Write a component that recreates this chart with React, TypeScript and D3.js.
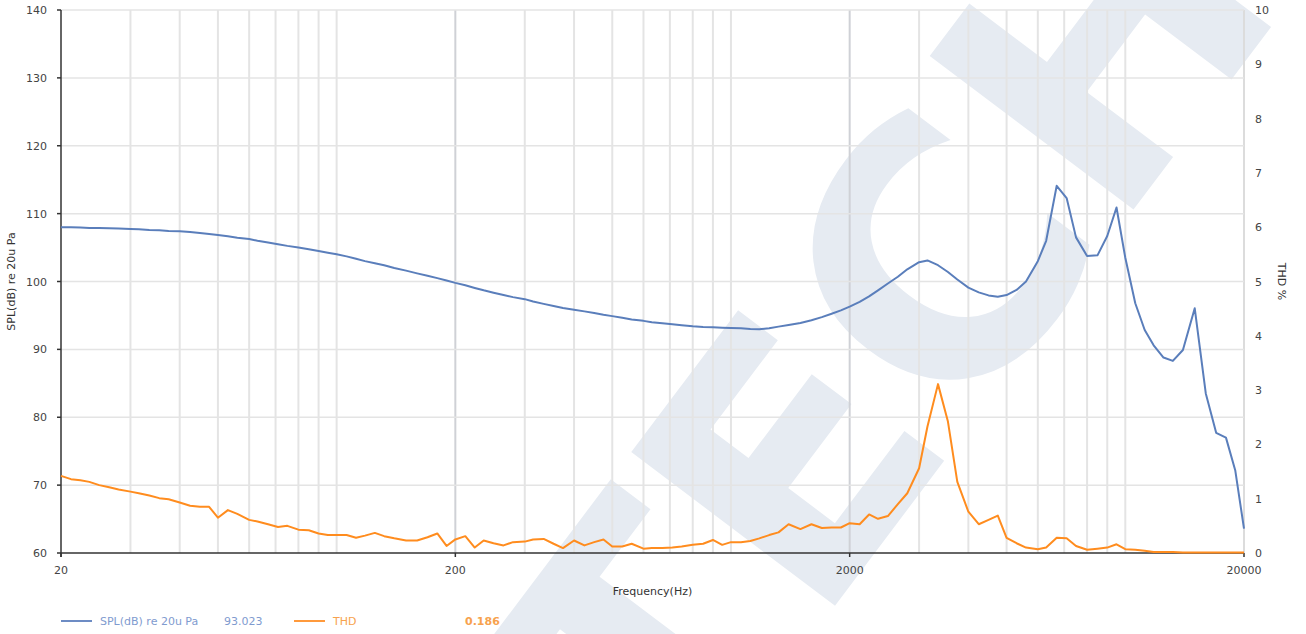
import React, { useEffect, useRef } from 'react'
import * as d3 from 'd3'

// 1/12 octave frequency points (Hz)
const freqs = [
  20, 21.2, 22.4, 23.6, 25, 26.5, 28, 30, 31.5, 33.5, 35.5, 37.5, 40, 42.5, 45, 47.5, 50, 53, 56, 60,
  63, 67, 71, 75, 80, 85, 90, 95, 100, 106, 112, 118, 125, 132, 140, 150, 160, 170, 180, 190,
  200, 212, 224, 236, 250, 265, 280, 300, 315, 335, 355, 375, 400, 425, 450, 475, 500, 530, 560, 600,
  630, 670, 710, 750, 800, 850, 900, 950, 1000, 1060, 1120, 1180, 1250, 1320, 1400, 1500, 1600, 1700, 1800, 1900,
  2000, 2120, 2240, 2360, 2500, 2650, 2800, 3000, 3150, 3350, 3550, 3750, 4000, 4250, 4500, 4750, 5000, 5300, 5600, 6000,
  6300, 6700, 7100, 7500, 8000, 8500, 9000, 9500, 10000, 10600, 11200, 11800, 12500, 13200, 14000, 15000, 16000, 17000, 18000, 19000,
  20000,
]

// SPL(dB) re 20u Pa
const splValues = [
  108.0, 108.0, 107.95, 107.9, 107.9, 107.85, 107.8, 107.75, 107.7, 107.6, 107.55, 107.45, 107.4, 107.3, 107.15, 107.0, 106.85, 106.65, 106.45, 106.25,
  106.0, 105.75, 105.5, 105.25, 105.0, 104.75, 104.5, 104.25, 104.0, 103.7, 103.35, 103.0, 102.7, 102.4, 102.0, 101.6, 101.2, 100.85, 100.5, 100.15,
  99.8, 99.45, 99.05, 98.7, 98.35, 98.0, 97.7, 97.4, 97.05, 96.7, 96.4, 96.1, 95.85, 95.6, 95.35, 95.1, 94.9, 94.65, 94.4, 94.2,
  94.0, 93.85, 93.7, 93.55, 93.4, 93.3, 93.25, 93.2, 93.15, 93.1, 93.0, 92.95, 93.1, 93.35, 93.6, 93.9, 94.3, 94.75, 95.25, 95.75,
  96.3, 97.0, 97.8, 98.7, 99.7, 100.7, 101.8, 102.85, 103.1, 102.4, 101.4, 100.3, 99.1, 98.4, 97.95, 97.75, 98.0, 98.75, 100.0, 103.0,
  106.0, 114.1, 112.3, 106.5, 103.75, 103.85, 106.7, 110.9, 103.5, 96.8, 92.85, 90.6, 88.8, 88.3, 89.9, 96.05, 83.5, 77.7, 77.0, 72.2,
  63.6,
]

// THD %
const thdValues = [
  1.42, 1.36, 1.34, 1.31, 1.25, 1.21, 1.17, 1.13, 1.1, 1.06, 1.01, 0.99, 0.93, 0.87, 0.85, 0.85, 0.65, 0.79, 0.72, 0.61,
  0.58, 0.53, 0.48, 0.5, 0.43, 0.42, 0.36, 0.33, 0.33, 0.33, 0.28, 0.32, 0.37, 0.31, 0.27, 0.23, 0.23, 0.29, 0.36, 0.13,
  0.25, 0.31, 0.1, 0.23, 0.18, 0.14, 0.2, 0.21, 0.25, 0.26, 0.17, 0.09, 0.23, 0.14, 0.2, 0.25, 0.12, 0.12, 0.17, 0.08,
  0.09, 0.09, 0.1, 0.12, 0.15, 0.17, 0.24, 0.15, 0.2, 0.2, 0.22, 0.27, 0.33, 0.38, 0.53, 0.44, 0.53, 0.46, 0.47, 0.47,
  0.55, 0.53, 0.71, 0.63, 0.68, 0.9, 1.1, 1.56, 2.33, 3.11, 2.42, 1.31, 0.76, 0.53, 0.61, 0.69, 0.28, 0.18, 0.1, 0.07,
  0.1, 0.28, 0.27, 0.13, 0.06, 0.08, 0.1, 0.16, 0.07, 0.06, 0.04, 0.02, 0.02, 0.02, 0.01, 0.01, 0.01, 0.01, 0.01, 0.01,
  0.01,
]

const xTickLabels = [20, 200, 2000, 20000]
const splTicks = [60, 70, 80, 90, 100, 110, 120, 130, 140]
const thdTicks = [0, 1, 2, 3, 4, 5, 6, 7, 8, 9, 10]
const legendSpl = { name: 'SPL(dB) re 20u Pa', value: '93.023' }
const legendThd = { name: 'THD', value: '0.186' }

const W = 1306
const H = 634
const FONT = '"DejaVu Sans", Verdana, sans-serif'

const App = () => {
  const refSvg = useRef<SVGSVGElement>(null)

  const draw = () => {
    const root = d3.select(refSvg.current)
    root.selectAll('*').remove()

    const left = 61
    const right = 1244
    const top = 10
    const bottom = 553

    const x = d3.scaleLog().domain([20, 20000]).range([left, right])
    const ySpl = d3.scaleLinear().domain([60, 140]).range([bottom, top])
    const yThd = d3.scaleLinear().domain([0, 10]).range([bottom, top])

    // watermark
    root
      .append('text')
      .attr('transform', 'translate(672,822) rotate(-53)')
      .attr('font-family', FONT)
      .attr('font-weight', 'bold')
      .attr('font-size', 350)
      .attr('fill', '#e6ebf2')
      .text('TECH')

    // vertical grid (1..9 x 10^n)
    const gridFreqs: number[] = []
    ;[10, 100, 1000, 10000].forEach((dec) => {
      for (let k = 1; k <= 9; k++) {
        const f = k * dec
        if (f > 20 && f < 20000) gridFreqs.push(f)
      }
    })
    root
      .append('g')
      .selectAll('line')
      .data(gridFreqs)
      .enter()
      .append('line')
      .attr('x1', (d) => x(d))
      .attr('x2', (d) => x(d))
      .attr('y1', top)
      .attr('y2', bottom)
      .attr('stroke', (d) => (d === 200 || d === 2000 ? '#cfd1d6' : '#e4e4e4'))
      .attr('stroke-width', 2)
    root
      .append('line')
      .attr('x1', right)
      .attr('x2', right)
      .attr('y1', top)
      .attr('y2', bottom)
      .attr('stroke', '#dcdcdc')
      .attr('stroke-width', 2)

    // horizontal grid
    root
      .append('g')
      .selectAll('line')
      .data(splTicks.filter((d) => d > 60))
      .enter()
      .append('line')
      .attr('x1', left)
      .attr('x2', right)
      .attr('y1', (d) => ySpl(d))
      .attr('y2', (d) => ySpl(d))
      .attr('stroke', '#e4e4e4')
      .attr('stroke-width', 1.5)

    // left axis
    const gl = root.append('g')
    gl.append('line').attr('x1', left).attr('x2', left).attr('y1', top).attr('y2', bottom + 4).attr('stroke', '#333').attr('stroke-width', 1.5)
    splTicks.forEach((t) => {
      gl.append('line').attr('x1', left - 4).attr('x2', left).attr('y1', ySpl(t)).attr('y2', ySpl(t)).attr('stroke', '#333').attr('stroke-width', 1.5)
      gl.append('text')
        .attr('x', left - 14)
        .attr('y', ySpl(t) + 4)
        .attr('text-anchor', 'end')
        .attr('font-family', FONT)
        .attr('font-size', 11)
        .attr('fill', '#444')
        .text(t)
    })
    gl.append('text')
      .attr('transform', `translate(15,${(top + bottom) / 2}) rotate(-90)`)
      .attr('text-anchor', 'middle')
      .attr('font-family', FONT)
      .attr('font-size', 11)
      .attr('fill', '#333')
      .text('SPL(dB) re 20u Pa')

    // right axis labels
    const gr = root.append('g')
    thdTicks.forEach((t) => {
      gr.append('text')
        .attr('x', right + 11)
        .attr('y', yThd(t) + 4)
        .attr('font-family', FONT)
        .attr('font-size', 11)
        .attr('fill', '#444')
        .text(t)
    })
    gr.append('text')
      .attr('transform', `translate(1278,${(top + bottom) / 2}) rotate(90)`)
      .attr('text-anchor', 'middle')
      .attr('font-family', FONT)
      .attr('font-size', 11)
      .attr('fill', '#333')
      .text('THD %')

    // bottom axis
    const gb = root.append('g')
    gb.append('line').attr('x1', left).attr('x2', right).attr('y1', bottom).attr('y2', bottom).attr('stroke', '#333').attr('stroke-width', 1.5)
    xTickLabels.forEach((t) => {
      gb.append('line').attr('x1', x(t)).attr('x2', x(t)).attr('y1', bottom).attr('y2', bottom + 4).attr('stroke', '#333').attr('stroke-width', 1.5)
      gb.append('text')
        .attr('x', x(t))
        .attr('y', bottom + 21)
        .attr('text-anchor', 'middle')
        .attr('font-family', FONT)
        .attr('font-size', 11)
        .attr('fill', '#444')
        .text(t)
    })
    gb.append('text')
      .attr('x', (left + right) / 2)
      .attr('y', 595)
      .attr('text-anchor', 'middle')
      .attr('font-family', FONT)
      .attr('font-size', 11)
      .attr('fill', '#333')
      .text('Frequency(Hz)')

    // series
    const splLine = d3
      .line<number>()
      .x((_, i) => x(freqs[i]))
      .y((d) => ySpl(d))
    const thdLine = d3
      .line<number>()
      .x((_, i) => x(freqs[i]))
      .y((d) => yThd(d))

    root.append('path').datum(thdValues).attr('d', thdLine).attr('fill', 'none').attr('stroke', '#ff8c1e').attr('stroke-width', 2).attr('stroke-linejoin', 'round')
    root.append('path').datum(splValues).attr('d', splLine).attr('fill', 'none').attr('stroke', '#5a7ebb').attr('stroke-width', 2).attr('stroke-linejoin', 'round')

    // legend
    const lg = root.append('g').attr('font-family', FONT).attr('font-size', 11)
    lg.append('line').attr('x1', 61).attr('x2', 92).attr('y1', 621).attr('y2', 621).attr('stroke', '#6d8cc4').attr('stroke-width', 2)
    lg.append('text').attr('x', 100).attr('y', 625).attr('fill', '#7f9bcf').text(legendSpl.name)
    lg.append('text').attr('x', 224).attr('y', 625).attr('fill', '#7f9bcf').text(legendSpl.value)
    lg.append('line').attr('x1', 294).attr('x2', 325).attr('y1', 621).attr('y2', 621).attr('stroke', '#ff9a3c').attr('stroke-width', 2)
    lg.append('text').attr('x', 333).attr('y', 625).attr('fill', '#f7a24e').text(legendThd.name)
    lg.append('text').attr('x', 465).attr('y', 625).attr('fill', '#f7a24e').attr('font-weight', 'bold').text(legendThd.value)
  }

  useEffect(() => {
    document.body.style.margin = '0'
    if (refSvg) {
      draw()
    }
  })

  return <svg ref={refSvg} width={W} height={H} style={{ display: 'block', background: '#fff' }} />
}

export default App
